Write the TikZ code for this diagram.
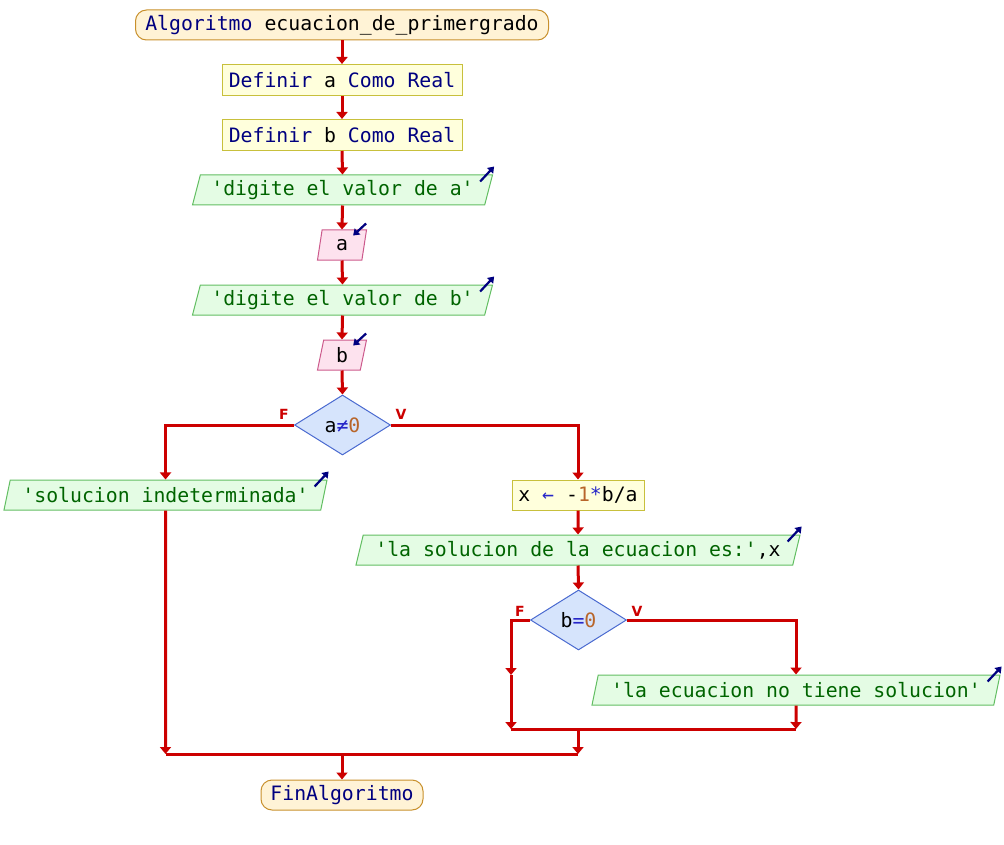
\documentclass[tikz,border=0pt]{standalone}
\usepackage{fontspec}
\newfontfamily\codefont{DejaVu Sans Mono}
\newfontfamily\labelfont{DejaVu Sans}
\usetikzlibrary{shapes.geometric,arrows.meta,calc}

\definecolor{kw}{HTML}{000080}
\definecolor{strc}{HTML}{006400}
\definecolor{numc}{HTML}{B8652A}
\definecolor{opc}{HTML}{2626C8}
\definecolor{flowc}{HTML}{CC0000}
\definecolor{termfill}{HTML}{FFF3D6}
\definecolor{termline}{HTML}{C8902C}
\definecolor{procfill}{HTML}{FFFFDC}
\definecolor{procline}{HTML}{C8C03C}
\definecolor{outfill}{HTML}{E4FCE4}
\definecolor{outline}{HTML}{62BE62}
\definecolor{infill}{HTML}{FDE2EE}
\definecolor{inline}{HTML}{CC5A8C}
\definecolor{decfill}{HTML}{D6E4FC}
\definecolor{decline}{HTML}{4A6AD0}

\newcommand{\kw}[1]{\textcolor{kw}{#1}}
\newcommand{\str}[1]{\textcolor{strc}{#1}}
\newcommand{\num}[1]{\textcolor{numc}{#1}}
\newcommand{\op}[1]{\textcolor{opc}{#1}}
\newcommand{\q}{\textquotesingle}

\tikzset{
  base/.style={inner sep=0pt, line width=1pt, text=black,
    font=\codefont\fontsize{19.8pt}{24pt}\selectfont},
  terminal/.style={base, rectangle, rounded corners=11pt, draw=termline,
    fill=termfill, minimum height=30pt},
  procbox/.style={base, rectangle, draw=procline, fill=procfill,
    minimum height=31pt},
  para/.style={base, trapezium, trapezium left angle=68,
    trapezium right angle=112, trapezium stretches body, minimum height=30pt},
  outbox/.style={para, draw=outline, fill=outfill},
  inbox/.style={para, draw=inline, fill=infill},
  decision/.style={base, diamond, aspect=1.6, draw=decline, fill=decfill,
    minimum width=96pt, minimum height=60pt},
  flow/.style={draw=flowc, line width=3pt,
    -{Triangle[width=11pt,length=7pt]}},
  plainflow/.style={draw=flowc, line width=3pt},
  iconarrow/.style={draw=kw, line width=2.2pt,
    -{Triangle[width=8pt,length=6pt]}},
  branchlabel/.style={text=flowc, font=\labelfont\bfseries\fontsize{14pt}{16pt}\selectfont,
    inner sep=0pt}
}

\begin{document}
\begin{tikzpicture}[x=1pt,y=-1pt]
\useasboundingbox (0,0) rectangle (1004,845);

% main column
\node[terminal, minimum width=413pt] (start) at (342,25)
  {\kw{Algoritmo} ecuacion\_de\_primergrado};
\node[procbox, minimum width=240pt] (def1) at (342,80)
  {\kw{Definir} a \kw{Como} \kw{Real}};
\node[procbox, minimum width=240pt] (def2) at (342,135)
  {\kw{Definir} b \kw{Como} \kw{Real}};
\node[outbox, minimum width=300pt] (out1) at (342.5,190)
  {\str{\q digite el valor de a\q}};
\node[inbox, minimum width=49pt] (in1) at (342,245) {a};
\node[outbox, minimum width=300pt] (out2) at (342.5,300)
  {\str{\q digite el valor de b\q}};
\node[inbox, minimum width=49pt] (in2) at (342,355) {b};
\node[decision] (dec1) at (342.5,425) {a\op{≠}\num{0}};

% false branch of a≠0
\node[outbox, minimum width=323pt] (out3) at (165.5,495)
  {\str{\q solucion indeterminada\q}};

% true branch of a≠0
\node[procbox, minimum width=132pt, minimum height=30pt] (proc) at (578,495)
  {x \op{←} -\num{1}\op{*}b/a};
\node[outbox, minimum width=444pt] (out4) at (578,550)
  {\str{\q la solucion de la ecuacion es:\q},x};
\node[decision] (dec2) at (578.5,620) {b\op{=}\num{0}};
\node[outbox, minimum width=408pt] (out5) at (796,690)
  {\str{\q la ecuacion no tiene solucion\q}};

\node[terminal, minimum width=162pt] (end) at (342,795) {\kw{FinAlgoritmo}};

% output / input markers
\foreach \n in {out1,out2,out3,out4,out5}
  \draw[iconarrow] ([shift={(-13,7)}]\n.top right corner)
    -- ([shift={(1,-8)}]\n.top right corner);
\foreach \n in {in1,in2}
  \draw[iconarrow] ([shift={(-1,-6)}]\n.top right corner)
    -- ([shift={(-14,6)}]\n.top right corner);

% junction points
\coordinate (fmid) at (511,675);
\coordinate (m2L) at (511,729);
\coordinate (m2R) at (796,729);
\coordinate (m2C) at (578,729);
\coordinate (m1L) at (165.5,754);
\coordinate (m1R) at (578,754);
\coordinate (m1C) at (342,754);

% connectors
\draw[flow] (start.south) -- (def1.north);
\draw[flow] (def1.south) -- (def2.north);
\draw[flow] (def2.south) -- (out1.north);
\draw[flow] (out1.south) -- (in1.north);
\draw[flow] (in1.south) -- (out2.north);
\draw[flow] (out2.south) -- (in2.north);
\draw[flow] (in2.south) -- (dec1.north);
\draw[flow] (dec1.west) -| (out3.north);
\draw[flow] (dec1.east) -| (proc.north);
\draw[flow] (proc.south) -- (out4.north);
\draw[flow] (out4.south) -- (dec2.north);
\draw[flow] (dec2.east) -| (out5.north);
\draw[flow] (dec2.west) -| (fmid);
\draw[flow] (fmid) -- (m2L);
\draw[flow] (out5.south) -- (m2R);
\draw[plainflow] (m2L) -- (m2R);
\draw[flow] (m2C) -- (m1R);
\draw[flow] (out3.south) -- (m1L);
\draw[plainflow] (m1L) -- (m1R);
\draw[flow] (m1C) -- (end.north);

% branch labels
\node[branchlabel] (f1) at (284,414) {F};
\node[branchlabel] (v1) at (401,414) {V};
\node[branchlabel] (f2) at (520,611) {F};
\node[branchlabel] (v2) at (637,611) {V};
\end{tikzpicture}
\end{document}
